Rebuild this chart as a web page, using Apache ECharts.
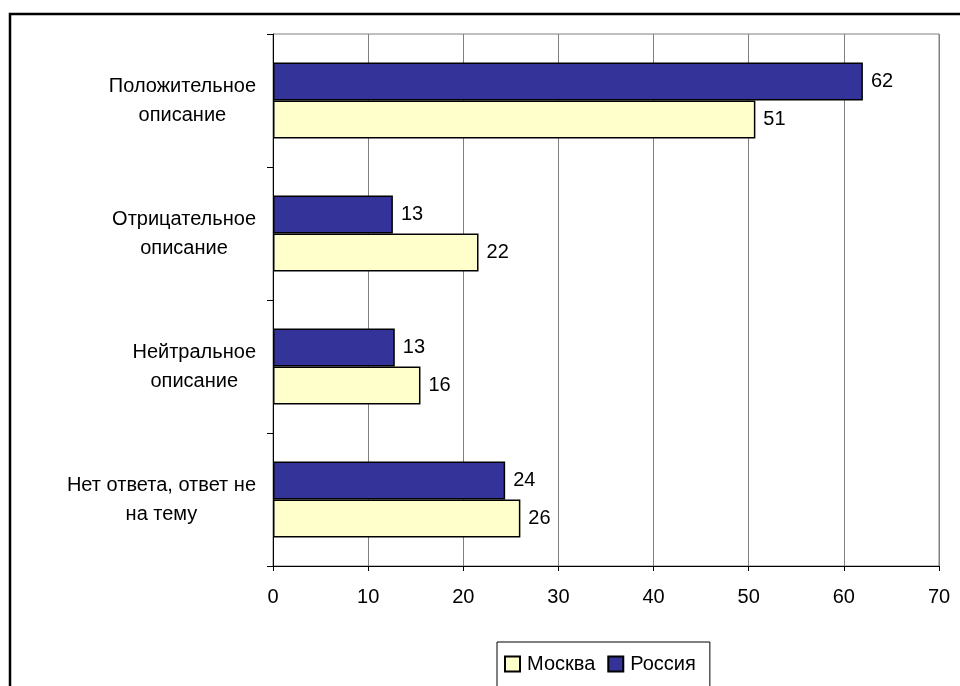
<!DOCTYPE html>
<html>
<head>
<meta charset="utf-8">
<script src="https://cdn.jsdelivr.net/npm/echarts@6/dist/echarts.min.js"></script>
<style>
html,body{margin:0;padding:0;background:#fff;}
#chart{width:960px;height:686px;}
</style>
</head>
<body>
<div id="chart"></div>
<script>
const categories = ['Положительное\nописание', 'Отрицательное\nописание', 'Нейтральное\nописание', 'Нет ответа, ответ не\nна тему'];
const seriesNames = ['Россия', 'Москва'];
const russia = [62.0, 12.6, 12.8, 24.4];
const moscow = [50.7, 21.6, 15.5, 26.0];
const xTicks = [0, 10, 20, 30, 40, 50, 60, 70];

const FONT = '"Liberation Sans", Arial, sans-serif';
const chart = echarts.init(document.getElementById('chart'));

const rich = {};
categories.forEach((c, i) => {
  rich['c' + i] = { align: 'center', lineHeight: 29, fontSize: 20, fontFamily: FONT, color: '#000' };
});

const option = {
  backgroundColor: '#fff',
  animation: false,
  textStyle: { fontFamily: FONT },
  graphic: [{
    type: 'rect', z: -10, silent: true,
    shape: { x: 10, y: 14, width: 980, height: 700 },
    style: { fill: 'none', stroke: '#000', lineWidth: 2.5 }
  }],
  grid: {
    left: 273, right: 21, top: 34, bottom: 120,
    show: true, borderColor: '#808080', borderWidth: 1, backgroundColor: 'transparent'
  },
  legend: {
    data: ['Москва', 'Россия'],
    left: 497, top: 642,
    padding: [12, 14, 30, 7],
    itemWidth: 15, itemHeight: 15, itemGap: 12,
    borderColor: '#000', borderWidth: 1, backgroundColor: '#fff',
    textStyle: { fontSize: 20, color: '#000', fontFamily: FONT, padding: [0, 0, 0, 2] },
    icon: 'rect'
  },
  xAxis: {
    type: 'value', min: xTicks[0], max: xTicks[xTicks.length - 1], interval: 10,
    axisLine: { show: true, lineStyle: { color: '#000', width: 1 } },
    axisTick: { show: true, length: 5, lineStyle: { color: '#000' } },
    axisLabel: { fontSize: 20, color: '#000', margin: 21, fontFamily: FONT },
    splitLine: { show: true, lineStyle: { color: '#808080', width: 1 } }
  },
  yAxis: {
    type: 'category', data: categories, inverse: true,
    axisLine: { show: true, lineStyle: { color: '#000', width: 1 } },
    axisTick: { show: true, length: 6, lineStyle: { color: '#000' } },
    axisLabel: {
      margin: 17, align: 'right', fontSize: 20, color: '#000', fontFamily: FONT,
      formatter: function (v, idx) {
        return v.split('\n').map(l => '{c' + idx + '|' + l + '}').join('\n');
      },
      rich: rich
    },
    splitLine: { show: false }
  },
  series: [
    {
      name: seriesNames[0], type: 'bar', data: russia,
      barWidth: 38, barGap: '0%',
      itemStyle: { color: '#333399', borderColor: '#000', borderWidth: 1.5 },
      label: { show: true, position: 'right', distance: 8, fontSize: 20, color: '#000', fontFamily: FONT,
        formatter: p => Math.round(p.value) }
    },
    {
      name: seriesNames[1], type: 'bar', data: moscow,
      barWidth: 38, barGap: '0%',
      itemStyle: { color: '#FFFFCC', borderColor: '#000', borderWidth: 1.5 },
      label: { show: true, position: 'right', distance: 8, fontSize: 20, color: '#000', fontFamily: FONT,
        formatter: p => Math.round(p.value) }
    }
  ]
};
chart.setOption(option);
</script>
</body>
</html>
